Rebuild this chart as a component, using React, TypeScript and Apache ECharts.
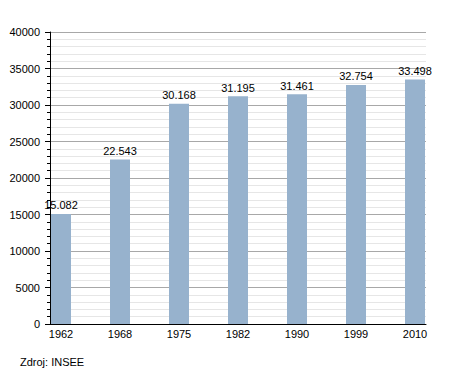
import React, { useEffect, useRef } from "react";
import * as echarts from "echarts";

const years = ["1962", "1968", "1975", "1982", "1990", "1999", "2010"];
const population = [15082, 22543, 30168, 31195, 31461, 32754, 33498];
const yTicks = { min: 0, max: 40000, interval: 5000 };
const sourceText = "Zdroj: INSEE";

const fmt = (v: number) => {
  const s = String(Math.round(v));
  return s.replace(/\B(?=(\d{3})+(?!\d))/g, ".");
};

export default function App() {
  const ref = useRef<HTMLDivElement>(null);
  useEffect(() => {
    const chart = echarts.init(ref.current!, null, { renderer: "svg" });
    const font = "'Liberation Sans', Arial, sans-serif";
    chart.setOption({
      animation: false,
      textStyle: { fontFamily: font },
      grid: [
        { left: 50, right: 29, top: 32, bottom: 49 },
        { left: 61, right: 40, top: 32, bottom: 49 },
      ],
      xAxis: [
        {
          gridIndex: 0,
          type: "category",
          data: years,
          axisLine: { show: true, lineStyle: { color: "#000", width: 1 } },
          axisTick: { show: false },
          axisLabel: { show: false },
          splitLine: { show: false },
        },
        {
          gridIndex: 1,
          type: "category",
          boundaryGap: false,
          data: years,
          axisLine: { show: false },
          axisTick: { show: false },
          axisLabel: { show: true, fontSize: 11, color: "#000", margin: 4, fontFamily: font },
          splitLine: { show: false },
        },
      ],
      yAxis: [
        {
          gridIndex: 0,
          type: "value",
          min: yTicks.min,
          max: yTicks.max,
          interval: yTicks.interval,
          axisLine: { show: true, lineStyle: { color: "#000", width: 1 } },
          axisTick: { show: true, inside: false, length: 5, lineStyle: { color: "#000" } },
          minorTick: { show: true, splitNumber: 5, length: 3, lineStyle: { color: "#000" } },
          axisLabel: {
            fontSize: 11,
            color: "#000",
            margin: 10,
            fontFamily: font,
            formatter: (v: number) => String(v),
          },
          splitLine: { show: true, lineStyle: { color: "#a8a8a8", width: 1 } },
          minorSplitLine: { show: true, lineStyle: { color: "#e6e6e6", width: 1 } },
        },
        {
          gridIndex: 1,
          type: "value",
          min: yTicks.min,
          max: yTicks.max,
          show: false,
          splitLine: { show: false },
        },
      ],
      series: [
        {
          type: "bar",
          xAxisIndex: 1,
          yAxisIndex: 1,
          data: population,
          barWidth: 20,
          itemStyle: { color: "#97b2cd" },
          label: {
            show: true,
            position: "top",
            distance: 3,
            fontSize: 11,
            color: "#000",
            fontFamily: font,
            formatter: (p: any) => fmt(p.value),
          },
        },
      ],
      graphic: [
        {
          type: "text",
          left: 20,
          top: 356,
          style: { text: sourceText, fontSize: 11, fill: "#000", font: `11px ${font}` },
        },
      ],
    });
    return () => chart.dispose();
  }, []);
  return (
    <div
      ref={ref}
      style={{ position: "fixed", left: 0, top: 0, width: 455, height: 373, background: "#fff" }}
    />
  );
}
